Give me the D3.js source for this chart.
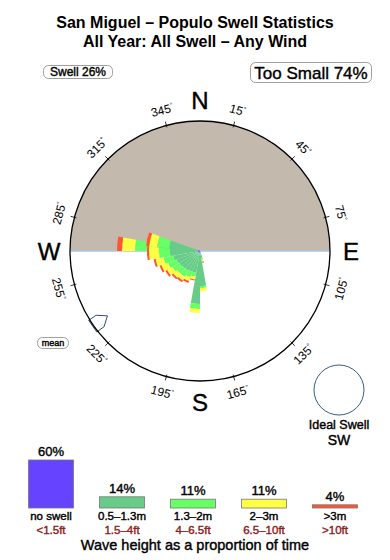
<!DOCTYPE html>
<html><head><meta charset="utf-8">
<script src="https://cdn.jsdelivr.net/npm/d3@7"></script>
<style>html,body{margin:0;padding:0;background:#fff;}svg{display:block;font-family:"Liberation Sans",Arial,sans-serif;}
.hv{paint-order:stroke;stroke-width:0.4px;stroke-linejoin:round;}</style>
</head><body><div id="chart"></div>
<script>
// ---- data ----
const titleLines = ["San Miguel \u2013 Populo Swell Statistics", "All Year: All Swell \u2013 Any Wind"];
const swellPct = 26, tooSmallPct = 74, meanDir = 235, idealDir = "SW";
// rose bins: direction (deg), share of time per wave class (%)
const directions = [165, 175, 185, 195, 205, 215, 225, 235, 245, 255, 265, 270, 275, 280, 285];
const roseBlue   = [0.2, 0.2, 0.2, 0.2, 0.2, 0.2, 0.2, 0.2, 0.2, 0.2, 0.2, 0.2, 0.2, 0.2, 0.2];
const roseTeal   = [0.5, 3.3, 5.1, 2.0, 2.0, 2.1, 2.1, 2.2, 2.3, 2.5, 2.8, 2.8, 4.3, 2.9, 2.9];
const roseLime   = [0.2, 0.2, 0.5, 0.4, 0.6, 0.7, 0.7, 0.8, 0.9, 1.0, 1.1, 1.1, 2.0, 1.2, 1.2];
const roseYellow = [0.2, 0.3, 0.4, 0.3, 0.4, 0.4, 0.5, 0.6, 0.7, 0.8, 1.0, 1.0, 1.3, 0.8, 0.8];
const roseOrange = [0.1, 0.0, 0.0, 0.1, 0.2, 0.2, 0.2, 0.2, 0.2, 0.2, 0.2, 0.2, 0.5, 0.3, 0.3];
const tickAngles = [15, 45, 75, 105, 135, 165, 195, 225, 255, 285, 315, 345];
const cardinals = ["N", "E", "S", "W"];
const legendPct = [60, 14, 11, 11, 4];
const legendMetric = ["no swell", "0.5\u20131.3m", "1.3\u20132m", "2\u20133m", ">3m"];
const legendFeet = ["<1.5ft", "1.5\u20134ft", "4\u20136.5ft", "6.5\u201310ft", ">10ft"];
const classColors = ["#6644ff", "#66cc88", "#66ff66", "#ffff44", "#ff5533"];

// ---- layout ----
const W = 390, H = 560, cx = 200, cy = 251, R = 130;
const svg = d3.select("#chart").append("svg").attr("width", W).attr("height", H);

svg.selectAll("text.title").data(titleLines).join("text")
  .attr("x", 195).attr("y", (d, i) => 28 + i * 19)
  .attr("text-anchor", "middle").attr("font-size", 16).attr("font-weight", "bold").text(d => d);

function heavy(sel, col) { return sel.attr("class", "hv").attr("stroke", col || "#000").attr("fill", col || "#000"); }

// boxes
function box(x, y, w, h, txt, fs) {
  svg.append("rect").attr("x", x).attr("y", y).attr("width", w).attr("height", h)
    .attr("rx", 5).attr("fill", "#fff").attr("stroke", "#888").attr("stroke-width", 0.8);
  heavy(svg.append("text"), "#000").attr("x", x + w / 2).attr("y", y + h / 2).attr("dy", "0.36em")
    .attr("text-anchor", "middle").attr("font-size", fs).text(txt);
}
box(43.5, 65.5, 69, 13, `Swell ${swellPct}%`, 12);
box(250.5, 62.5, 121, 20, `Too Small ${tooSmallPct}%`, 17);

const g = svg.append("g").attr("transform", `translate(${cx},${cy})`);
const rad = d => d * Math.PI / 180;

// upper half (too small) fill
g.append("path").attr("d", d3.arc()({innerRadius: 0, outerRadius: R, startAngle: rad(-90), endAngle: rad(90)}))
  .attr("fill", "#c4b9ad");
g.append("line").attr("x1", -R).attr("x2", R).attr("y1", 0).attr("y2", 0)
  .attr("stroke", "#a9c6e4").attr("stroke-width", 1.5);

// rose
const r = d3.scaleLinear().domain([0, 13]).range([0, R]);
const bins = directions.map((d, i) => {
  const vals = [roseBlue[i], roseTeal[i], roseLime[i], roseYellow[i], roseOrange[i]];
  let acc = 0;
  const segs = vals.map((v, k) => { const s = {r0: acc, r1: acc + v, c: classColors[k]}; acc += v; return s; });
  return {dir: d, total: acc, segs};
}).sort((a, b) => b.total - a.total);
const arc = d3.arc();
const halfW = 5;
const wedge = g.selectAll("g.wedge").data(bins).join("g").attr("class", "wedge");
wedge.selectAll("path").data(b => b.segs.filter(s => s.r1 > s.r0).map(s => ({...s, dir: b.dir}))).join("path")
  .attr("d", s => arc({innerRadius: r(s.r0), outerRadius: r(s.r1), startAngle: rad(s.dir - halfW), endAngle: rad(s.dir + halfW)}))
  .attr("fill", s => s.c);

// outer circle
g.append("circle").attr("r", R).attr("fill", "none").attr("stroke", "#000").attr("stroke-width", 1.3);
// ticks & labels
g.selectAll("line.tick").data(tickAngles).join("line")
  .attr("x1", a => 128 * Math.sin(rad(a))).attr("y1", a => -128 * Math.cos(rad(a)))
  .attr("x2", a => 134 * Math.sin(rad(a))).attr("y2", a => -134 * Math.cos(rad(a)))
  .attr("stroke", "#000").attr("stroke-width", 0.8);
const lab = g.selectAll("text.deg").data(tickAngles).join("text")
  .attr("transform", a => {
    const x = 146 * Math.sin(rad(a)), y = -146 * Math.cos(rad(a));
    const rot = (a < 90 || a > 270) ? (a > 270 ? a - 360 : a) : a - 180;
    return `translate(${x},${y}) rotate(${rot})`;
  })
  .attr("text-anchor", "middle").attr("dy", "0.36em").attr("font-size", 12);
lab.append("tspan").text(a => a);
lab.append("tspan").attr("font-size", 7).attr("dy", "-0.6em").text("\u00b0");

g.selectAll("text.card").data(cardinals).join("text")
  .attr("x", (d, i) => 151 * Math.sin(rad(i * 90))).attr("y", (d, i) => -151 * Math.cos(rad(i * 90)))
  .attr("dy", "0.36em").attr("text-anchor", "middle").attr("font-size", 24)
  .attr("stroke", "#000").attr("stroke-width", 0.4).text(d => d);

// mean arrow
const ma = rad(meanDir);
const pt = (rr, off) => [rr * Math.sin(ma) + off * Math.cos(ma), -rr * Math.cos(ma) + off * Math.sin(ma)];
const arrowPts = [pt(131, -7), pt(122, -7), pt(113, 0), pt(122, 7), pt(131, 7)];
g.append("path").attr("d", "M" + arrowPts.map(p => p.join(",")).join("L") + "Z")
  .attr("fill", "#fff").attr("stroke", "#2f5070").attr("stroke-width", 1);
g.append("path").attr("d", d3.arc()({innerRadius: R, outerRadius: R, startAngle: ma - 0.06, endAngle: ma + 0.06}))
  .attr("fill", "none").attr("stroke", "#000").attr("stroke-width", 1.3);
box(37.5, 337.5, 31, 11, "mean", 9);

// ideal swell
svg.append("circle").attr("cx", 339).attr("cy", 390).attr("r", 25)
  .attr("fill", "#fff").attr("stroke", "#3a5a80").attr("stroke-width", 1);
heavy(svg.append("text")).attr("x", 339).attr("y", 429).attr("text-anchor", "middle").attr("font-size", 12.5).text("Ideal Swell");
heavy(svg.append("text")).attr("x", 339).attr("y", 445).attr("text-anchor", "middle").attr("font-size", 14).text(idealDir);

// legend
const lx = d3.scalePoint().domain(d3.range(5)).range([51, 335]);
const ly = d3.scaleLinear().domain([0, 60]).range([0, 48]);
const base = 508, bw = 45;
const leg = svg.selectAll("g.leg").data(legendPct).join("g").attr("class", "leg");
leg.append("rect").attr("x", (d, i) => lx(i) - bw / 2).attr("y", d => base - ly(d))
  .attr("width", bw).attr("height", d => ly(d))
  .attr("fill", (d, i) => classColors[i]).attr("stroke", "#777").attr("stroke-width", 0.8);
heavy(leg.append("text")).attr("x", (d, i) => lx(i)).attr("y", d => base - ly(d) - 4)
  .attr("text-anchor", "middle").attr("font-size", 13).text(d => d + "%");
heavy(leg.append("text")).attr("x", (d, i) => lx(i)).attr("y", 520)
  .attr("text-anchor", "middle").attr("font-size", 11.5).text((d, i) => legendMetric[i]);
heavy(leg.append("text"), "#8b1c1c").attr("x", (d, i) => lx(i)).attr("y", 533.5)
  .attr("text-anchor", "middle").attr("font-size", 11.5).text((d, i) => legendFeet[i]);
heavy(svg.append("text")).attr("x", 195).attr("y", 550).attr("text-anchor", "middle").attr("font-size", 14.5)
  .text("Wave height as a proportion of time");
</script></body></html>
